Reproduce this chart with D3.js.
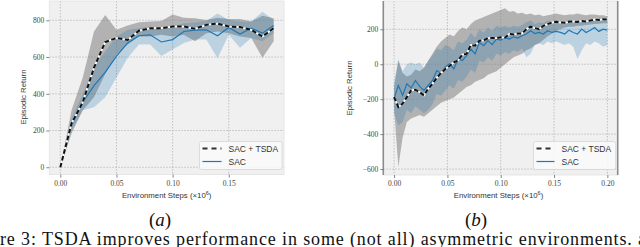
<!DOCTYPE html>
<html>
<head>
<meta charset="utf-8">
<script src="https://cdn.jsdelivr.net/npm/d3@7"></script>
<style>
  body { margin: 0; background: #fff; }
  svg { display: block; }
  .tick line { stroke: #666; stroke-width: 0.8; }
  .axis-title { font-family: "Liberation Sans", Arial, sans-serif; font-size: 7.8px; fill: #333; }
  .legend-text { font-family: "Liberation Sans", Arial, sans-serif; font-size: 8.5px; fill: #333; }
</style>
</head>
<body>
<div id="fig"></div>
<script>
// ---- panel (a) ----
const stepsA = [0, 0.01, 0.02, 0.03, 0.04, 0.05, 0.06, 0.07, 0.08, 0.09,
  0.10, 0.11, 0.12, 0.13, 0.14, 0.15, 0.16, 0.17, 0.18, 0.19];
const tsdaMeanA = [0, 238, 354, 542, 682, 703, 693, 743, 757, 757, 766, 766, 754, 775, 782, 766, 763, 748, 712, 757];
const tsdaLowA = [0, 184, 310, 381, 507, 614, 668, 712, 712, 721, 712, 721, 686, 730, 739, 730, 712, 703, 596, 686];
const tsdaHighA = [0, 310, 489, 739, 829, 748, 771, 789, 793, 796, 832, 814, 811, 802, 814, 807, 807, 793, 825, 811];
const sacMeanA = [0, 229, 354, 444, 516, 605, 677, 716, 721, 682, 695, 739, 746, 748, 716, 761, 725, 757, 730, 771];
const sacLowA = [0, 202, 310, 327, 381, 489, 596, 668, 668, 605, 641, 677, 695, 695, 593, 721, 650, 703, 686, 730];
const sacHighA = [0, 265, 399, 542, 632, 712, 748, 757, 766, 754, 766, 784, 789, 796, 837, 802, 793, 793, 846, 802];
const xTicksA = [0, 0.05, 0.10, 0.15];
const yTicksA = [0, 200, 400, 600, 800];

// ---- panel (b) ----
const stepsB = [0, 0.004, 0.008, 0.012, 0.016, 0.020, 0.024, 0.028, 0.032, 0.036,
  0.040, 0.044, 0.048, 0.052, 0.056, 0.060, 0.064, 0.068, 0.072, 0.076,
  0.080, 0.084, 0.088, 0.092, 0.096, 0.100, 0.104, 0.108, 0.112, 0.116,
  0.120, 0.124, 0.128, 0.132, 0.136, 0.140, 0.144, 0.148, 0.152, 0.156,
  0.160, 0.164, 0.168, 0.172, 0.176, 0.180, 0.184, 0.188, 0.192, 0.196, 0.200];
const tsdaMeanB = [-188, -245, -225, -188, -150, -146, -160, -178, -140, -112,
  -78, -50, -27, -10, 11, 21, 55, 59, 110, 106,
  135, 136, 150, 150, 150, 154, 152, 173, 170, 176,
  176, 200, 215, 207, 201, 220, 230, 239, 243, 239,
  237, 243, 245, 242, 248, 245, 250, 256, 253, 258, 256];
const tsdaLowB = [-250, -590, -420, -330, -310, -300, -290, -300, -280, -260,
  -240, -220, -210, -200, -190, -170, -150, -130, -120, -100,
  -90, -80, -60, -50, -40, -20, 0, 20, 40, 50,
  60, 80, 90, 110, 120, 140, 160, 175, 190, 200,
  210, 215, 215, 220, 220, 225, 228, 230, 232, 235, 235];
const tsdaHighB = [-130, 20, -50, -70, -60, -30, -40, -20, 20, 60,
  100, 130, 150, 170, 160, 190, 210, 200, 230, 250,
  260, 270, 280, 290, 300, 310, 320, 300, 305, 290,
  295, 285, 290, 280, 285, 275, 280, 285, 290, 285,
  280, 285, 285, 290, 285, 280, 285, 285, 280, 280, 275];
const sacMeanB = [-197, -121, -178, -112, -135, -93, -127, -150, -121, -93,
  -36, -51, -17, 2, -27, 30, 21, 49, 87, 59,
  125, 106, 135, 112, 144, 138, 154, 144, 157, 150,
  163, 173, 192, 176, 182, 173, 192, 182, 188, 182,
  173, 195, 182, 173, 201, 182, 195, 210, 188, 201, 195];
const sacLowB = [-280, -350, -330, -260, -280, -240, -260, -280, -260, -230,
  -170, -180, -150, -120, -140, -90, -100, -70, -30, -50,
  20, 10, 40, 20, 60, 50, 70, 60, 80, 70,
  90, 40, 60, 110, 120, 110, 130, 120, 130, 120,
  110, 120, 100, 30, 80, 120, 110, 130, 120, 100, 110];
const sacHighB = [-100, 30, -40, 0, 10, 0, 10, -20, 20, 50,
  90, 80, 110, 100, 80, 130, 120, 140, 180, 150,
  200, 180, 210, 190, 220, 210, 220, 210, 220, 215,
  225, 240, 250, 230, 240, 235, 250, 245, 250, 245,
  240, 255, 245, 250, 255, 245, 250, 255, 245, 255, 250];
const xTicksB = [0, 0.05, 0.10, 0.15, 0.20];
const yTicksB = [-600, -400, -200, 0, 200];

const legendLabels = ['SAC + TSDA', 'SAC'];

const SERIF = '"Liberation Serif", "DejaVu Serif", serif';

const svg = d3.select('#fig').append('svg')
    .attr('width', 640)
    .attr('height', 247);

class ReturnChart {
    constructor(_config, _data) {
        this.config = _config;
        this.data = _data;
        this.initVis();
    }

    initVis() {
        const vis = this;
        const c = vis.config;

        vis.xScale = d3.scaleLinear().domain(c.xDomain).range([c.left, c.right]);
        vis.yScale = d3.scaleLinear().domain(c.yDomain).range([c.bottom, c.top]);

        vis.g = svg.append('g');

        // plot background
        vis.g.append('rect')
            .attr('x', c.left).attr('y', c.top)
            .attr('width', c.right - c.left).attr('height', c.bottom - c.top)
            .attr('fill', '#f0f0f0');

        vis.clipId = c.id + '-clip';
        vis.g.append('clipPath').attr('id', vis.clipId)
          .append('rect')
            .attr('x', c.left).attr('y', c.top)
            .attr('width', c.right - c.left).attr('height', c.bottom - c.top);

        // grid
        vis.grid = vis.g.append('g');
        vis.grid.selectAll('.gx').data(c.xTicks).join('line')
            .attr('x1', d => vis.xScale(d)).attr('x2', d => vis.xScale(d))
            .attr('y1', c.top).attr('y2', c.bottom);
        vis.grid.selectAll('.gy').data(c.yTicks).join('line')
            .attr('class', 'gy')
            .attr('y1', d => vis.yScale(d)).attr('y2', d => vis.yScale(d))
            .attr('x1', c.left).attr('x2', c.right);
        vis.grid.selectAll('line')
            .attr('stroke', '#b4b4b4')
            .attr('stroke-width', 0.8)
            .attr('stroke-dasharray', '1.5,1.5');

        vis.chart = vis.g.append('g').attr('clip-path', `url(#${vis.clipId})`);

        // spines
        vis.g.append('rect')
            .attr('x', c.left).attr('y', c.top)
            .attr('width', c.right - c.left).attr('height', c.bottom - c.top)
            .attr('fill', 'none')
            .attr('stroke', '#e2e2e2')
            .attr('stroke-width', 0.8);
        if (c.darkSpines) {
            [c.left, c.right].forEach(x => {
                vis.g.append('line')
                    .attr('x1', x).attr('x2', x)
                    .attr('y1', c.top).attr('y2', c.bottom)
                    .attr('stroke', '#8c8c8c')
                    .attr('stroke-width', 1.6);
            });
        }

        vis.xAxis = d3.axisBottom(vis.xScale)
            .tickValues(c.xTicks)
            .tickFormat(d3.format('.2f'))
            .tickSize(3)
            .tickPadding(3);
        vis.yAxis = d3.axisLeft(vis.yScale)
            .tickValues(c.yTicks)
            .tickFormat(d3.format('d'))
            .tickSize(3)
            .tickPadding(2);

        vis.xAxisGroup = vis.g.append('g')
            .attr('transform', `translate(0,${c.bottom})`);
        vis.yAxisGroup = vis.g.append('g')
            .attr('transform', `translate(${c.left},0)`);

        // axis titles
        const xt = vis.g.append('text')
            .attr('class', 'axis-title')
            .attr('x', (c.left + c.right) / 2 + c.xTitleShift)
            .attr('y', 198)
            .attr('text-anchor', 'middle')
            .text('Environment Steps (×10');
        xt.append('tspan').attr('dy', -3).attr('font-size', '5.5px').text('6');
        xt.append('tspan').attr('dy', 3).text(')');

        vis.g.append('text')
            .attr('class', 'axis-title')
            .attr('transform', `translate(${c.yTitleX},${c.yTitleY}) rotate(-90)`)
            .attr('text-anchor', 'middle')
            .text('Episodic Return');

        // panel label
        const lab = vis.g.append('text')
            .attr('x', c.labelX)
            .attr('y', 226)
            .attr('text-anchor', 'middle')
            .attr('font-family', SERIF)
            .attr('font-size', '19px')
            .attr('fill', '#111');
        lab.append('tspan').text('(');
        lab.append('tspan').attr('font-style', 'italic').text(c.label);
        lab.append('tspan').text(')');

        vis.updateVis();
    }

    updateVis() {
        const vis = this;

        vis.xValue = (d) => d.step;

        vis.areaFunc = (lo, hi) => d3.area()
            .x(d => vis.xScale(vis.xValue(d)))
            .y0(d => vis.yScale(d[lo]))
            .y1(d => vis.yScale(d[hi]));

        vis.lineFunc = (key) => d3.line()
            .x(d => vis.xScale(vis.xValue(d)))
            .y(d => vis.yScale(d[key]));

        vis.renderVis();
    }

    renderVis() {
        const vis = this;
        const c = vis.config;

        // bands
        vis.chart.append('path')
            .datum(vis.data)
            .attr('d', vis.areaFunc('tsdaLow', 'tsdaHigh'))
            .attr('fill', '#7f7f7f')
            .attr('fill-opacity', 0.55);
        vis.chart.append('path')
            .datum(vis.data)
            .attr('d', vis.areaFunc('sacLow', 'sacHigh'))
            .attr('fill', '#1f77b4')
            .attr('fill-opacity', 0.25);

        // mean lines
        vis.chart.append('path')
            .datum(vis.data)
            .attr('d', vis.lineFunc('sac'))
            .attr('fill', 'none')
            .attr('stroke', '#1f77b4')
            .attr('stroke-width', 1.2);
        vis.chart.append('path')
            .datum(vis.data)
            .attr('d', vis.lineFunc('tsda'))
            .attr('fill', 'none')
            .attr('stroke', '#fff')
            .attr('stroke-width', 1.8);
        vis.chart.append('path')
            .datum(vis.data)
            .attr('d', vis.lineFunc('tsda'))
            .attr('fill', 'none')
            .attr('stroke', '#111')
            .attr('stroke-width', 2)
            .attr('stroke-dasharray', '4.5,2.5');

        // axes, serif tick labels
        [vis.xAxisGroup.call(vis.xAxis), vis.yAxisGroup.call(vis.yAxis)].forEach(g => {
            g.select('.domain').remove();
            g.selectAll('.tick text')
                .style('font-family', SERIF)
                .style('font-size', '7.5px')
                .style('fill', '#444');
        });

        // legend
        const lg = vis.g.append('g');
        lg.append('rect')
            .attr('x', c.legendX).attr('y', 141.5)
            .attr('width', c.right - 2 - c.legendX).attr('height', 28)
            .attr('rx', 2)
            .attr('fill', '#fafafa')
            .attr('fill-opacity', 0.85)
            .attr('stroke', '#d4d4d4')
            .attr('stroke-width', 0.8);
        const rows = lg.selectAll('.row').data(legendLabels).join('g')
            .attr('transform', (d, i) => `translate(${c.legendX + 3},${148.5 + i * 13})`);
        rows.append('line')
            .attr('x1', 0).attr('x2', c.legendLine)
            .attr('stroke', (d, i) => i === 0 ? '#333' : '#1f77b4')
            .attr('stroke-width', (d, i) => i === 0 ? 1.8 : 1.2)
            .attr('stroke-dasharray', (d, i) => i === 0 ? '5,4' : null);
        rows.append('text')
            .attr('class', 'legend-text')
            .attr('x', c.legendLine + 7)
            .attr('y', 3)
            .text(d => d);
    }
}

const rowsA = stepsA.map((s, i) => ({
    step: s, tsda: tsdaMeanA[i], tsdaLow: tsdaLowA[i], tsdaHigh: tsdaHighA[i],
    sac: sacMeanA[i], sacLow: sacLowA[i], sacHigh: sacHighA[i],
}));
const rowsB = stepsB.map((s, i) => ({
    step: s, tsda: tsdaMeanB[i], tsdaLow: tsdaLowB[i], tsdaHigh: tsdaHighB[i],
    sac: sacMeanB[i], sacLow: sacLowB[i], sacHigh: sacHighB[i],
}));

new ReturnChart({
    id: 'a', left: 49.3, right: 284, top: 1, bottom: 174.6,
    xDomain: [-0.0098, 0.1992], yDomain: [-40, 905],
    xTicks: xTicksA, yTicks: yTicksA, darkSpines: false,
    xTitleShift: 0, yTitleX: 26, yTitleY: 97, label: 'a', labelX: 160,
    legendX: 199.5, legendLine: 19,
}, rowsA);

new ReturnChart({
    id: 'b', left: 383.3, right: 617.7, top: 1, bottom: 175,
    xDomain: [-0.0101, 0.2097], yDomain: [-634, 362],
    xTicks: xTicksB, yTicks: yTicksB, darkSpines: true,
    xTitleShift: -2, yTitleX: 352, yTitleY: 88, label: 'b', labelX: 476,
    legendX: 533.5, legendLine: 18,
}, rowsB);

// caption line, cropped at the edges like the reference
svg.append('text')
    .attr('x', 0)
    .attr('y', 245)
    .attr('font-family', SERIF)
    .attr('font-size', '18px')
    .attr('fill', '#111')
    .attr('textLength', 646)
    .attr('lengthAdjust', 'spacing')
    .text('re 3:  TSDA improves performance in some (not all) asymmetric environments.  a');
</script>
</body>
</html>
